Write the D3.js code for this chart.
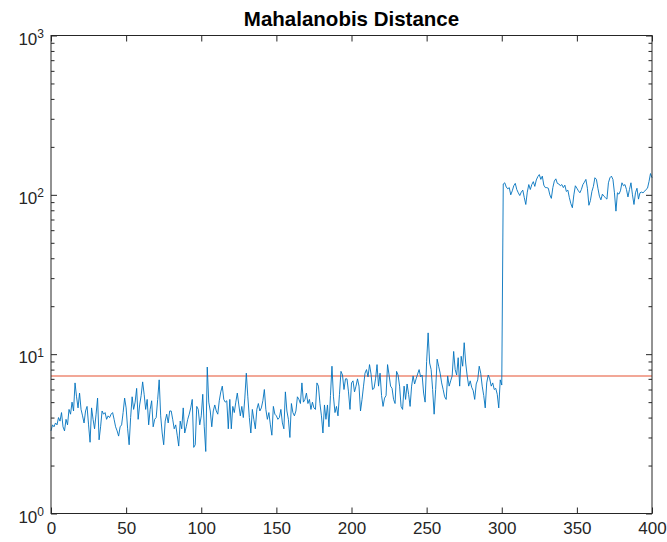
<!DOCTYPE html>
<html>
<head>
<meta charset="utf-8">
<script src="https://cdn.jsdelivr.net/npm/d3@7"></script>
<style>
  body { margin: 0; background: #fff; }
  text { font-family: "Liberation Sans", Arial, sans-serif; }
</style>
</head>
<body>
<div class="svgWrapper"></div>
<script>
// Data //
// distance per sample, sample index = array position (0..400)
const distances = [
  3.3, 3.6, 3.5, 3.7, 3.6, 4.0, 3.8, 4.3, 3.5, 3.3,
  3.9, 3.6, 4.5, 4.2, 5.0, 4.4, 6.6, 5.4, 4.6, 5.7,
  4.5, 4.1, 3.7, 4.4, 4.7, 3.6, 2.8, 4.6, 3.9, 3.4,
  4.2, 5.3, 2.9, 3.5, 4.4, 4.2, 4.3, 3.9, 4.1, 4.0,
  4.2, 4.3, 3.9, 3.5, 3.3, 3.06, 3.5, 3.6, 4.3, 5.3,
  4.6, 3.4, 2.7, 4.0, 5.4, 4.5, 5.0, 6.1, 3.9, 4.8,
  5.5, 6.7, 5.6, 4.5, 5.2, 3.6, 4.5, 5.1, 3.5, 3.9,
  4.0, 5.2, 6.9, 4.1, 3.2, 2.7, 3.8, 4.2, 3.7, 4.4,
  4.4, 3.9, 3.4, 3.6, 3.1, 2.65, 3.8, 3.4, 4.6, 3.2,
  3.5, 3.9, 4.2, 4.6, 5.2, 2.6, 2.7, 4.7, 4.5, 3.6,
  4.1, 5.6, 3.5, 2.45, 8.3, 5.0, 4.4, 3.5, 4.4, 4.8,
  4.4, 4.2, 5.1, 5.8, 6.3, 5.2, 5.0, 5.1, 3.4, 5.2,
  3.4, 4.7, 4.3, 5.0, 5.7, 4.8, 4.1, 4.7, 4.0, 5.3,
  7.6, 5.4, 4.0, 3.2, 4.5, 3.9, 3.4, 4.5, 4.9, 4.4,
  4.6, 5.1, 6.0, 4.5, 3.9, 4.3, 3.6, 3.1, 4.7, 4.2,
  4.1, 3.9, 4.0, 4.5, 3.7, 3.4, 5.8, 4.4, 3.9, 3.0,
  4.9, 4.3, 4.1, 4.4, 5.4, 5.2, 4.9, 6.6, 5.0, 5.2,
  5.7, 4.9, 5.2, 4.5, 5.0, 4.6, 4.5, 6.6, 6.3, 4.9,
  4.1, 3.2, 4.8, 3.9, 4.8, 3.5, 5.5, 8.4, 5.4, 4.3,
  4.7, 4.1, 5.6, 7.8, 7.4, 6.0, 7.0, 7.0, 5.8, 4.5,
  6.6, 6.8, 5.8, 6.3, 7.0, 6.3, 4.4, 5.2, 6.3, 7.6,
  8.0, 7.2, 8.6, 7.5, 6.0, 6.1, 7.0, 8.6, 6.3, 7.6,
  5.5, 4.7, 5.3, 5.5, 8.6, 7.4, 6.3, 6.1, 5.2, 4.9,
  7.8, 7.4, 6.3, 4.7, 4.5, 6.3, 5.2, 6.5, 5.6, 4.7,
  6.3, 7.3, 6.5, 7.0, 7.5, 8.0, 7.2, 7.4, 5.7, 5.0,
  9.0, 13.6, 8.8, 8.0, 6.0, 4.2, 6.0, 9.3, 8.4, 7.6,
  6.6, 6.0, 5.4, 5.2, 7.3, 6.3, 6.8, 7.3, 10.4, 8.0,
  7.4, 9.5, 6.3, 9.7, 8.4, 11.8, 8.8, 7.3, 6.3, 6.8,
  6.2, 5.9, 5.2, 6.5, 6.9, 8.4, 7.6, 6.3, 5.5, 4.6,
  6.6, 7.4, 7.0, 6.3, 6.6, 6.0, 6.1, 5.6, 4.6, 6.9,
  6.4, 117, 119, 112, 109, 111, 100, 106, 114, 118,
  108, 103, 99, 104, 107, 96, 87, 104, 116, 108,
  116, 121, 113, 124, 130, 134, 125, 131, 115, 111,
  111, 110, 100, 95, 111, 122, 126, 118, 117, 114,
  116, 111, 115, 105, 107, 96, 88, 83, 100, 114,
  110, 106, 103, 108, 116, 120, 125, 110, 86, 92,
  105, 113, 128, 125, 110, 98, 93, 101, 98, 96,
  94, 119, 128, 131, 125, 103, 79, 103, 101, 106,
  119, 114, 116, 108, 97, 108, 119, 100, 87, 103,
  110, 94, 103, 104, 103, 105, 108, 110, 121, 136,
  128
];
const threshold = 7.3;
const xTicks = [0, 50, 100, 150, 200, 250, 300, 350, 400];
const yTicks = [1, 10, 100, 1000];
const yTickExps = ["0", "1", "2", "3"];
const titleText = "Mahalanobis Distance";

// Styles //
const svgStyles = { w: 667, h: 542 };
const chartStyles = {
  margin: { top: 35.5, right: 15, bottom: 28.5, left: 51 },
  axisColor: "#262626",
  lineColor: "#0072BD",
  threshColor: "#F2A797",
  majorTick: 6,
  minorTick: 3.5
};
chartStyles.w = svgStyles.w - chartStyles.margin.left - chartStyles.margin.right;
chartStyles.h = svgStyles.h - chartStyles.margin.top - chartStyles.margin.bottom;

let svg = d3
  .select(".svgWrapper")
  .append("svg")
  .attr("width", svgStyles.w)
  .attr("height", svgStyles.h);

// title
svg
  .append("text")
  .attr("x", chartStyles.margin.left + chartStyles.w / 2)
  .attr("y", 26)
  .attr("text-anchor", "middle")
  .style("font-size", "20.5px")
  .style("font-weight", "bold")
  .style("fill", "#000")
  .text(titleText);

let chart = svg
  .append("g")
  .attr("transform", `translate(${chartStyles.margin.left}, ${chartStyles.margin.top})`);

const xScale = d3.scaleLinear().domain([0, 400]).range([0, chartStyles.w]);
const yScale = d3.scaleLog().domain([1, 1000]).range([chartStyles.h, 0]);

// threshold line
chart
  .append("line")
  .attr("x1", xScale(0))
  .attr("x2", xScale(400))
  .attr("y1", yScale(threshold))
  .attr("y2", yScale(threshold))
  .attr("stroke", chartStyles.threshColor)
  .attr("stroke-width", 2);

// distance line
const line = d3
  .line()
  .x((d, i) => xScale(i))
  .y(d => yScale(d));

chart
  .append("path")
  .datum(distances)
  .attr("fill", "none")
  .attr("stroke", chartStyles.lineColor)
  .attr("stroke-width", 0.9)
  .attr("stroke-linejoin", "round")
  .attr("d", line);

// X axis (bottom + top, ticks inside)
const xAxis = d3
  .axisBottom(xScale)
  .tickValues(xTicks)
  .tickSize(-chartStyles.majorTick)
  .tickFormat(d3.format("d"));

const gx = chart
  .append("g")
  .attr("transform", `translate(0, ${chartStyles.h})`)
  .call(xAxis);
gx.select(".domain").remove();
gx.selectAll("text")
  .style("font-size", "17px")
  .style("fill", chartStyles.axisColor)
  .attr("y", 8)
  .attr("dy", "0.71em");

const gxTop = chart
  .append("g")
  .call(d3.axisTop(xScale).tickValues(xTicks).tickSize(-chartStyles.majorTick).tickFormat(""));
gxTop.select(".domain").remove();

// Y axis (left + right, log ticks)
const minorTicks = [];
[1, 10, 100].forEach(dec => {
  [2, 3, 4, 5, 6, 7, 8, 9].forEach(m => minorTicks.push(dec * m));
});

const gyMinor = chart
  .append("g")
  .call(d3.axisLeft(yScale).tickValues(minorTicks).tickSize(-chartStyles.minorTick).tickFormat(""));
gyMinor.select(".domain").remove();

const gyMinorR = chart
  .append("g")
  .attr("transform", `translate(${chartStyles.w}, 0)`)
  .call(d3.axisRight(yScale).tickValues(minorTicks).tickSize(-chartStyles.minorTick).tickFormat(""));
gyMinorR.select(".domain").remove();

const gy = chart
  .append("g")
  .call(d3.axisLeft(yScale).tickValues(yTicks).tickSize(-chartStyles.majorTick).tickFormat(""));
gy.select(".domain").remove();

const gyR = chart
  .append("g")
  .attr("transform", `translate(${chartStyles.w}, 0)`)
  .call(d3.axisRight(yScale).tickValues(yTicks).tickSize(-chartStyles.majorTick).tickFormat(""));
gyR.select(".domain").remove();

// y tick labels as 10^n
const yLabels = chart
  .selectAll(".ylabel")
  .data(yTicks)
  .enter()
  .append("text")
  .attr("class", "ylabel")
  .attr("x", -7)
  .attr("y", d => yScale(d) + 9)
  .attr("text-anchor", "end")
  .style("font-size", "17px")
  .style("fill", chartStyles.axisColor);
yLabels.append("tspan").text("10");
yLabels
  .append("tspan")
  .attr("dy", "-0.55em")
  .style("font-size", "12px")
  .text((d, i) => yTickExps[i]);

chart.selectAll(".tick line").attr("stroke", chartStyles.axisColor);

// box
chart
  .append("rect")
  .attr("x", 0)
  .attr("y", 0)
  .attr("width", chartStyles.w)
  .attr("height", chartStyles.h)
  .attr("fill", "none")
  .attr("stroke", chartStyles.axisColor)
  .attr("stroke-width", 1);
</script>
</body>
</html>
